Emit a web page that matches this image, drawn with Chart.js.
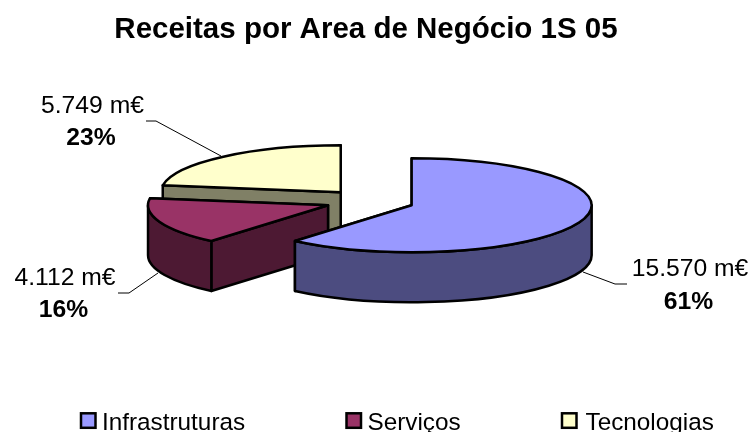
<!DOCTYPE html>
<html>
<head>
<meta charset="utf-8">
<title>Receitas por Area de Negócio 1S 05</title>
<script src="https://cdn.jsdelivr.net/npm/chart.js@4/dist/chart.umd.min.js"></script>
<style>
html, body { margin: 0; padding: 0; background: #fff; overflow: hidden; }
canvas { display: block; }
</style>
</head>
<body>
<canvas id="myChart" width="750" height="432"></canvas>
<script>
const categories = ['Infrastruturas', 'Serviços', 'Tecnologias'];
const values = [15570, 4112, 5749];
const topColors = ['#9999FF', '#993366', '#FFFFCC'];
const sideColors = ['#4C4C80', '#4D1933', '#808066'];
const titleText = 'Receitas por Area de Negócio 1S 05';

const FONT = '"Liberation Sans", Arial, sans-serif';

// 3d look of the pie
const tilt = 47 / 180;
const depth = 50;
const shiftX = 3.8;

// label text centre + baselines, then the leader line
const labelLayout = [
    { x: 690, y1: 276, y2: 308.5, line: [[627, 284], [615, 284], [583, 272]] },
    { x: 65, y1: 285, y2: 317, line: [[118, 293], [129, 293], [158, 273]] },
    { x: 92.5, y1: 113, y2: 145, line: [[146, 121], [156, 121], [221, 156]] }
];
const legendLayout = [
    { box: 81, text: 102 },
    { box: 346.5, text: 367.5 },
    { box: 562, text: 585.5 }
];

function formatValue(v) {
    return String(v).replace(/\B(?=(\d{3})+$)/g, '.') + ' m€';
}

function drawSlice(ctx, arc, i) {
    const start = arc.startAngle;
    const end = arc.endAngle;
    const mid = (start + end) / 2;
    const rx = arc.outerRadius;
    const ry = rx * tilt;
    const ax = arc.x + shiftX + Math.cos(mid) * arc.options.offset;
    const ay = arc.y + Math.sin(mid) * arc.options.offset * tilt;

    ctx.lineWidth = 2.5;
    ctx.lineJoin = 'round';
    ctx.strokeStyle = '#000';

    // radial faces, the lower one last
    const edges = [start, end].sort((a, b) => Math.sin(a) - Math.sin(b));
    edges.forEach(a => {
        const px = ax + Math.cos(a) * rx;
        const py = ay + Math.sin(a) * ry;
        ctx.beginPath();
        ctx.moveTo(ax, ay);
        ctx.lineTo(px, py);
        ctx.lineTo(px, py + depth);
        ctx.lineTo(ax, ay + depth);
        ctx.closePath();
        ctx.fillStyle = sideColors[i];
        ctx.fill();
        ctx.stroke();
    });

    // outer wall, only the part on the front half
    const a0 = Math.max(start, 0);
    const a1 = Math.min(end, Math.PI);
    if (a1 > a0) {
        ctx.beginPath();
        ctx.ellipse(ax, ay, rx, ry, 0, a0, a1);
        ctx.ellipse(ax, ay + depth, rx, ry, 0, a1, a0, true);
        ctx.closePath();
        ctx.fillStyle = sideColors[i];
        ctx.fill();
        ctx.stroke();
    }

    // top face
    ctx.beginPath();
    ctx.moveTo(ax, ay);
    ctx.ellipse(ax, ay, rx, ry, 0, start, end);
    ctx.closePath();
    ctx.fillStyle = topColors[i];
    ctx.fill();
    ctx.stroke();
}

const pie3d = {
    id: 'pie3d',
    beforeDatasetDraw(chart, args) {
        const ctx = chart.ctx;
        const arcs = args.meta.data;
        ctx.save();
        for (let i = arcs.length - 1; i >= 0; i--) {
            drawSlice(ctx, arcs[i], i);
        }
        ctx.restore();
        return false;
    },
    afterDraw(chart) {
        const ctx = chart.ctx;
        const total = values.reduce((a, b) => a + b, 0);
        ctx.save();
        ctx.fillStyle = '#000';
        ctx.textBaseline = 'alphabetic';

        // data labels + leader lines
        ctx.textAlign = 'center';
        labelLayout.forEach((l, i) => {
            ctx.font = '24.7px ' + FONT;
            ctx.fillText(formatValue(values[i]), l.x, l.y1);
            ctx.font = 'bold 24.7px ' + FONT;
            ctx.fillText(Math.round(values[i] / total * 100) + '%', l.x - 1.5, l.y2);
            ctx.beginPath();
            l.line.forEach((p, k) => k ? ctx.lineTo(p[0], p[1]) : ctx.moveTo(p[0], p[1]));
            ctx.strokeStyle = '#000';
            ctx.lineWidth = 1;
            ctx.stroke();
        });

        // legend
        ctx.textAlign = 'left';
        ctx.font = '24.3px ' + FONT;
        categories.forEach((c, i) => {
            ctx.fillStyle = topColors[i];
            ctx.strokeStyle = '#000';
            ctx.lineWidth = 2.5;
            ctx.fillRect(legendLayout[i].box, 413.3, 14.5, 14.5);
            ctx.strokeRect(legendLayout[i].box, 413.3, 14.5, 14.5);
            ctx.fillStyle = '#000';
            ctx.fillText(c, legendLayout[i].text, 429.5);
        });
        ctx.restore();
    }
};

const myChart = new Chart(document.getElementById('myChart').getContext('2d'), {
    type: 'pie',
    data: {
        labels: categories,
        datasets: [{
            data: values,
            backgroundColor: topColors,
            offset: 44.6,
            borderWidth: 0
        }]
    },
    options: {
        responsive: false,
        animation: false,
        radius: 180,
        layout: { padding: { left: 0, right: 18, top: 12, bottom: 77 } },
        plugins: {
            legend: { display: false },
            tooltip: { enabled: false },
            title: {
                display: true,
                text: titleText,
                color: '#000',
                font: { family: FONT, size: 29.5, weight: 'bold', lineHeight: 1.2 },
                padding: { top: 0, bottom: 0 }
            }
        }
    },
    plugins: [pie3d]
});
</script>
</body>
</html>
